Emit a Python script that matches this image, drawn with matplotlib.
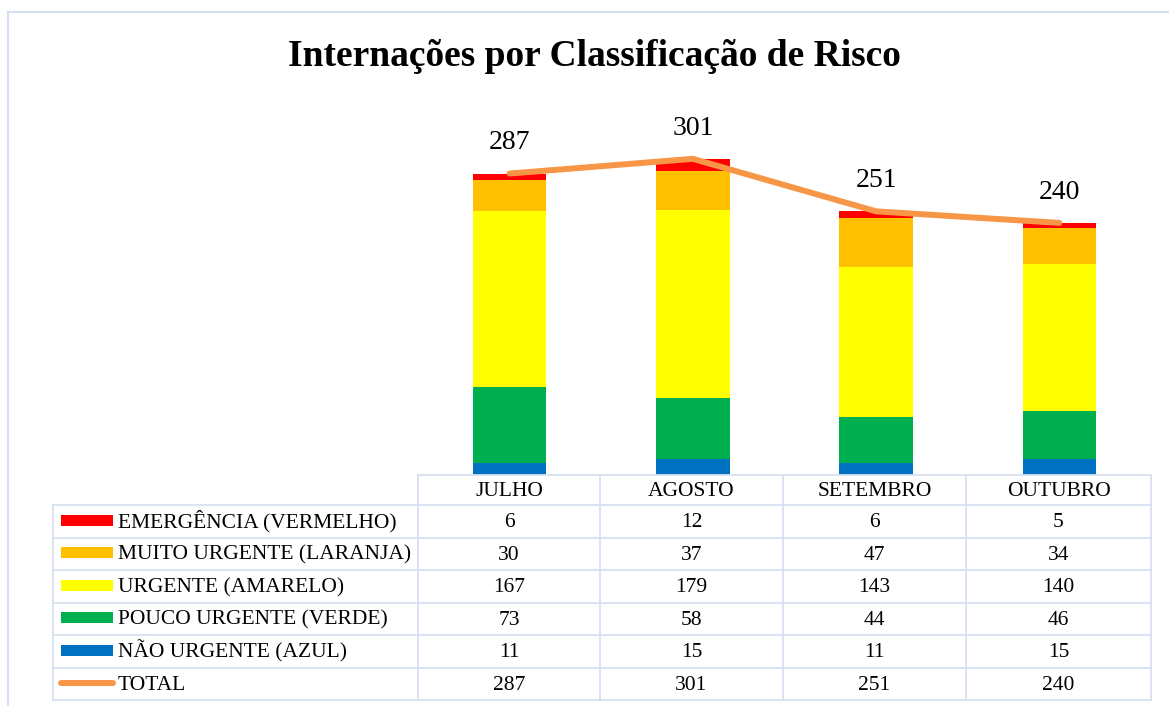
import matplotlib
matplotlib.use("Agg")
import matplotlib.pyplot as plt
import numpy as np

months = ["JULHO", "AGOSTO", "SETEMBRO", "OUTUBRO"]
series_names = ["EMERGÊNCIA (VERMELHO)", "MUITO URGENTE (LARANJA)", "URGENTE (AMARELO)",
                "POUCO URGENTE (VERDE)", "NÃO URGENTE (AZUL)"]
emergencia = [6, 12, 6, 5]
muito_urgente = [30, 37, 47, 34]
urgente = [167, 179, 143, 140]
pouco_urgente = [73, 58, 44, 46]
nao_urgente = [11, 15, 11, 15]
total = [287, 301, 251, 240]

colors = ["#FF0000", "#FFC000", "#FFFF00", "#00B050", "#0070C0"]
total_color = "#F79646"
grid_color = "#D6E0F0"
FONT = "Liberation Serif"

W, H = 1169, 706
fig = plt.figure(figsize=(W / 100, H / 100), dpi=100)

def fx(x):
    return x / W

def fy(y):
    return 1 - y / H

# Chart area aligned with table columns
left, right, bottom, top = 418, 1151, 475, 100
ax = fig.add_axes([fx(left), fy(bottom), fx(right - left), fy(top) - fy(bottom)])
x = np.arange(len(months))
stack_bottom_to_top = [nao_urgente, pouco_urgente, urgente, muito_urgente, emergencia]
stack_colors = colors[::-1]
base = np.zeros(len(months))
for vals, c in zip(stack_bottom_to_top, stack_colors):
    ax.bar(x, vals, width=0.4, bottom=base, color=c, edgecolor="none", zorder=2)
    base += np.array(vals)
ax.plot(x, total, color=total_color, lw=4.3, solid_capstyle="round",
        solid_joinstyle="round", zorder=3)
for xi, t in zip(x, total):
    ax.annotate(str(t), (xi, t), xytext=(0, 22), textcoords="offset points",
                ha="center", va="center", fontsize=20, family=FONT, color="black")
ax.set_xlim(-0.5, len(months) - 0.5)
ax.set_ylim(0, 357)
ax.axis("off")

# Overlay in pixel coordinates for frame, title and data table
ov = fig.add_axes([0, 0, 1, 1], zorder=-1)
ov.set_xlim(0, W)
ov.set_ylim(H, 0)
ov.axis("off")
ov2 = fig.add_axes([0, 0, 1, 1], zorder=5)
ov2.set_xlim(0, W)
ov2.set_ylim(H, 0)
ov2.axis("off")
ov2.patch.set_alpha(0)

# outer border
ov.plot([8, 8], [12, H], color=grid_color, lw=1.5)
ov.plot([8, W], [12, 12], color=grid_color, lw=1.5)

ov2.text(594, 56, "Internações por Classificação de Risco", ha="center", va="center",
         fontsize=27, fontweight="bold", family=FONT)

col_x = [418, 600, 783, 966, 1151]
row_y = [475, 505, 537.5, 570, 602.5, 635, 667.5, 700]
lw = 1.3
# horizontal lines
ov2.plot([col_x[0], col_x[-1]], [row_y[0], row_y[0]], color=grid_color, lw=lw)
for y in row_y[1:]:
    ov2.plot([53, col_x[-1]], [y, y], color=grid_color, lw=lw)
# vertical lines
ov2.plot([53, 53], [row_y[1], row_y[-1]], color=grid_color, lw=lw)
for cx in col_x:
    ov2.plot([cx, cx], [row_y[0], row_y[-1]], color=grid_color, lw=lw)

fs = 15.5
boff = 6
for i, m in enumerate(months):
    cx = (col_x[i] + col_x[i + 1]) / 2
    ov2.text(cx, (row_y[0] + row_y[1]) / 2 + boff, m, ha="center", va="baseline",
             fontsize=fs, family=FONT)

table_series = [emergencia, muito_urgente, urgente, pouco_urgente, nao_urgente]
for r, (name, vals, c) in enumerate(zip(series_names, table_series, colors)):
    cy = (row_y[r + 1] + row_y[r + 2]) / 2
    ov2.add_patch(plt.Rectangle((61, cy - 6.5), 52, 11, color=c, lw=0))
    ov2.text(118, cy + boff, name, ha="left", va="baseline", fontsize=fs, family=FONT)
    for i, v in enumerate(vals):
        cx = (col_x[i] + col_x[i + 1]) / 2
        ov2.text(cx, cy + boff, str(v), ha="center", va="baseline", fontsize=fs, family=FONT)

cy = (row_y[6] + row_y[7]) / 2
ov2.plot([61, 113], [cy - 1, cy - 1], color=total_color, lw=4.3, solid_capstyle="round")
ov2.text(118, cy + boff, "TOTAL", ha="left", va="baseline", fontsize=fs, family=FONT)
for i, v in enumerate(total):
    cx = (col_x[i] + col_x[i + 1]) / 2
    ov2.text(cx, cy + boff, str(v), ha="center", va="baseline", fontsize=fs, family=FONT)

fig.savefig("out.png", dpi=100)
